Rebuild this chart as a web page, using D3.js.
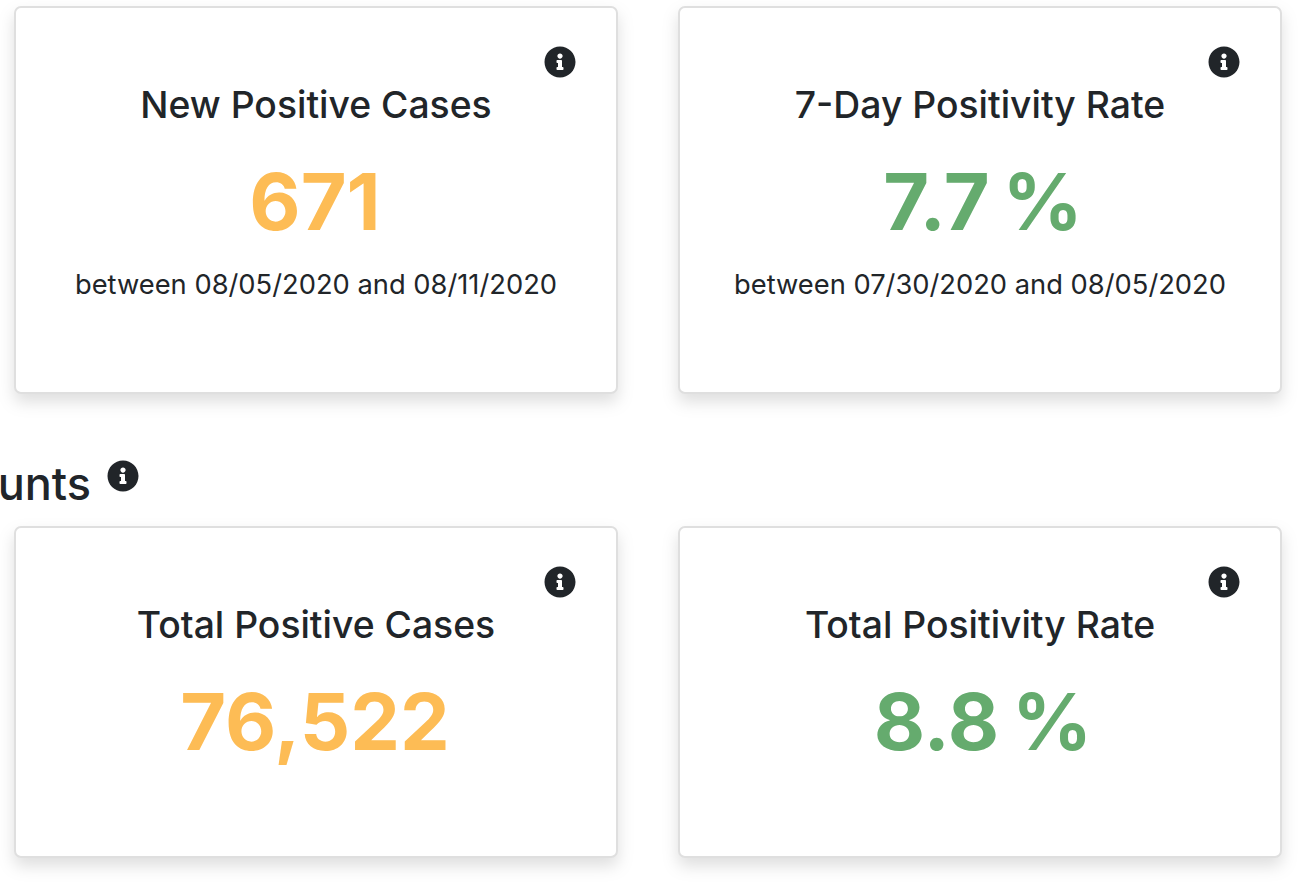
<!DOCTYPE html>
<html><head><meta charset="utf-8">
<script src="https://cdnjs.cloudflare.com/ajax/libs/d3/7.8.5/d3.min.js"></script>
<style>
html,body{margin:0;padding:0;background:#fff;overflow:hidden}
svg{display:block}
text{font-family:Inter,"Noto Sans",sans-serif;fill:#212529;text-anchor:middle}
.card{fill:#fff;stroke:#dfdfdf;stroke-width:2;filter:drop-shadow(0 8px 8px rgba(0,0,0,.13))}
</style></head><body>
<svg id="c" width="1308" height="888"></svg>
<script>
const titles=["New Positive Cases","7-Day Positivity Rate","Total Positive Cases","Total Positivity Rate"];
const values=["671","7.7 %","76,522","8.8 %"];
const notes=["between 08/05/2020 and 08/11/2020","between 07/30/2020 and 08/05/2020","",""];
const valueColors=["#fdbc55","#65ab6e","#fdbc55","#65ab6e"];
const sectionHeading="Counts";
const infoPath="M256 8C119.043 8 8 119.083 8 256c0 136.997 111.043 248 248 248s248-111.003 248-248C504 119.083 392.957 8 256 8zm0 110c23.196 0 42 18.804 42 42s-18.804 42-42 42-42-18.804-42-42 18.804-42 42-42zm56 254c0 6.627-5.373 12-12 12h-88c-6.627 0-12-5.373-12-12v-24c0-6.627 5.373-12 12-12h12v-64h-12c-6.627 0-12-5.373-12-12v-24c0-6.627 5.373-12 12-12h64c6.627 0 12 5.373 12 12v100h12c6.627 0 12 5.373 12 12v24z";

const svg=d3.select("#c");
const colX=d3.scaleOrdinal([0,1],[15,679]);
const rowY=d3.scaleOrdinal([0,1],[7,527]);
const rowH=d3.scaleOrdinal([0,1],[386,330]);
const W=602;
function info(sel,cx,cy){
  sel.append("path").attr("d",infoPath).attr("fill","#212529")
    .attr("transform",`translate(${cx-16},${cy-16}) scale(${32/512})`);
}
const cards=svg.selectAll("g.k").data(titles.map((t,i)=>({t,v:values[i],n:notes[i],col:valueColors[i],c:i%2,r:i>>1})))
  .join("g").attr("class","k").attr("transform",d=>`translate(${colX(d.c)},${rowY(d.r)})`);
cards.append("rect").attr("class","card").attr("width",W).attr("height",d=>rowH(d.r)).attr("rx",6);
cards.each(function(){info(d3.select(this),545,55);});
cards.append("text").attr("x",W/2).attr("y",111).attr("font-size",37.3).attr("font-weight",450).text(d=>d.t);
cards.append("text").attr("x",d=>W/2+(d.c?3:-1)).attr("y",223).attr("font-size",79).attr("font-weight",700).attr("word-spacing",-6).style("fill",d=>d.col).text(d=>d.v);
cards.append("text").attr("x",W/2).attr("y",287).attr("font-size",27.3).text(d=>d.n);
svg.append("text").attr("x",91).attr("y",500).attr("font-size",45).attr("font-weight",450).style("text-anchor","end").text(sectionHeading);
info(svg,123,476);
</script></body></html>
